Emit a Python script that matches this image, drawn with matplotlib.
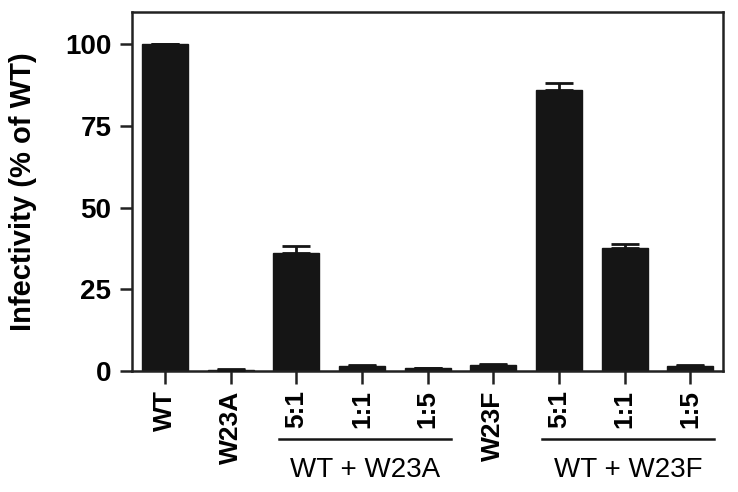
import matplotlib
matplotlib.use("Agg")
import matplotlib.pyplot as plt
import numpy as np

# Data
labels = ["WT", "W23A", "5:1", "1:1", "1:5", "W23F", "5:1", "1:1", "1:5"]
infectivity = [100, 0.4, 36.2, 1.6, 0.8, 1.8, 85.9, 37.6, 1.4]
err_upper = [0, 0.1, 2.1, 0.3, 0.2, 0.3, 2.2, 1.2, 0.3]
groups = [("WT + W23A", 2, 4), ("WT + W23F", 6, 8)]

plt.rcParams['font.family'] = ['Liberation Sans', 'DejaVu Sans']

fig = plt.figure(figsize=(7.38, 4.92), dpi=100)
ax = fig.add_axes([0.179, 0.246, 0.801, 0.730])

x = np.arange(len(labels))
ax.bar(x, infectivity, width=0.7, color='#151515', edgecolor='#151515', zorder=2)
ax.errorbar(x, infectivity, yerr=[np.zeros(len(x)), err_upper], fmt='none',
            ecolor='#151515', elinewidth=2, capsize=10, capthick=2, zorder=3)

ax.set_xlim(-0.5, 8.5)
ax.set_ylim(0, 110)
ax.set_yticks([0, 25, 50, 75, 100])
ax.set_xticks(x)
ax.set_xticklabels(labels, rotation=90, fontsize=19, fontweight='bold')
for lab in ax.get_yticklabels():
    lab.set_fontsize(20)
    lab.set_fontweight('bold')
ax.tick_params(axis='both', length=9, width=1.8, direction='out', color='#222222')
ax.tick_params(axis='x', pad=5)
ax.tick_params(axis='y', pad=6)

for sp in ax.spines.values():
    sp.set_linewidth(1.8)
    sp.set_color('#222222')

ax.set_ylabel("Infectivity (% of WT)", fontsize=21, fontweight='bold', labelpad=20)

# group bars under the tick labels
trans = ax.get_xaxis_transform()
for name, start, stop in groups:
    ax.plot([start - 0.26, stop + 0.36], [-0.19, -0.19], color='#151515', lw=1.8,
            transform=trans, clip_on=False)
    ax.text((start + stop) / 2 + 0.05, -0.276, name, transform=trans,
            ha='center', va='center', fontsize=20)

fig.savefig("out.png", dpi=100)
